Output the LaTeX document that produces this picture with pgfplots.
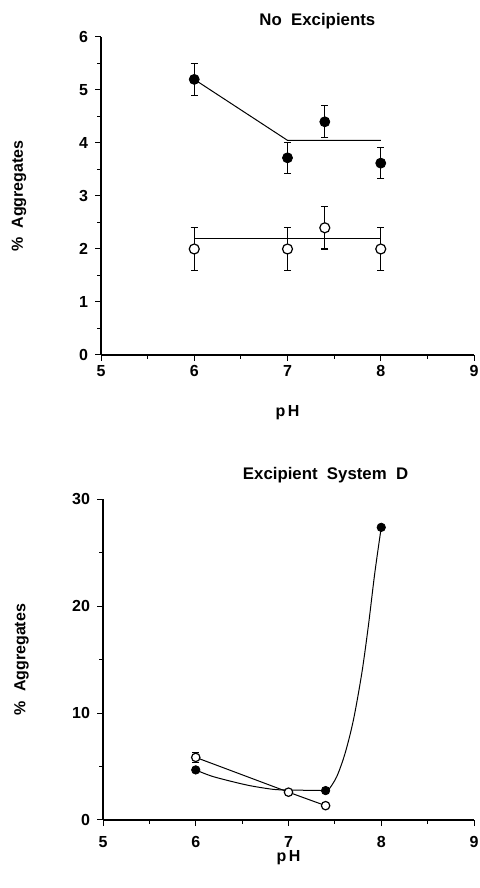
\documentclass[border=0pt]{standalone}
\usepackage{fontspec}
\setmainfont{Liberation Sans}
\usepackage{pgfplots}
\pgfplotsset{compat=1.18}
\begin{document}
\begin{tikzpicture}
\useasboundingbox (0pt,0pt) rectangle (240pt,444pt);
\pgfplotsset{
  every axis title shift=0pt,
  phax/.style={
    scale only axis,
    axis lines*=left,
    xmin=5, xmax=9, xtick={5,6,7,8,9}, minor x tick num=1,
    ymin=0,
    tick align=outside, tick pos=left,
    major tick length=3pt, minor tick length=1.8pt,
    every tick/.style={black, line width=0.5pt},
    axis line style={line width=0.6pt},
    tick label style={font=\fontsize{8}{9}\selectfont\bfseries},
    /pgf/number format/assume math mode=true,
    label style={font=\fontsize{8}{9}\selectfont\bfseries},
    title style={font=\fontsize{8.4}{9}\selectfont\bfseries, anchor=center},
    xlabel={p\,H},
    ylabel={\%\ \ Aggregates},
    ylabel style={at={(axis description cs:-0.22,0.5)}, anchor=center},
    clip=false,
  },
  fit/.style={black, line width=0.5pt, no marks},
  full/.style={only marks, mark=*, mark size=2.5pt, mark options={fill=black, draw=black}},
  open/.style={only marks, mark=*, mark size=2.5pt, mark options={fill=white, draw=black, line width=0.6pt}},
  ebar/.style={error bars/.cd, y dir=both, y explicit,
    error bar style={line width=0.6pt},
    error mark options={rotate=90, mark size=1.8pt, line width=0.6pt}},
}

% top panel: no excipients
\begin{axis}[phax,
  at={(50.5pt,266.5pt)}, anchor=south west,
  width=186.5pt, height=159pt,
  ymax=6, ytick={0,...,6}, minor y tick num=1,
  xticklabel style={yshift=1.5pt},
  title={No\ \ Excipients},
  title style={at={(axis description cs:0.58,1)}, yshift=8pt},
  xlabel style={at={(axis description cs:0.5,0)}, yshift=-29pt, anchor=center},
]
\addplot[fit] coordinates {(6,5.2) (7,4.05) (8,4.05)};
\addplot[fit] coordinates {(6,2.2) (8,2.2)};
\addplot[full, ebar] coordinates {
  (6,5.2) +- (0,0.3)
  (7,3.72) +- (0,0.29)
  (7.4,4.4) +- (0,0.3)
  (8,3.62) +- (0,0.29)
};
\addplot[open, ebar] coordinates {
  (6,2.0) +- (0,0.4)
  (7,2.0) +- (0,0.4)
  (7.4,2.4) +- (0,0.4)
  (8,2.0) +- (0,0.4)
};
\end{axis}

% bottom panel: excipient system D
\begin{axis}[phax,
  at={(51.5pt,34pt)}, anchor=south west,
  width=185.5pt, height=160.5pt,
  ymax=30, ytick={0,10,20,30}, minor y tick num=1,
  xticklabel style={yshift=-1.5pt},
  title={Excipient\ \ System\ \ D},
  title style={at={(axis description cs:0.6,1)}, yshift=12pt},
  xlabel style={at={(axis description cs:0.5,0)}, yshift=-19pt, anchor=center},
]
\addplot[fit, smooth, tension=0.5] coordinates {
  (6,4.68) (6.19,4.05) (6.55,3.27) (6.83,2.87) (7,2.8)
};
\addplot[fit] coordinates {(7,2.8) (7.4,2.75)};
\addplot[fit, smooth, tension=0.5] coordinates {
  (7.4,2.75) (7.43,2.8) (7.52,4.05) (7.61,6.23) (7.70,9.35) (7.79,13.7) (7.86,18.07) (7.93,23.06) (8,27.35)
};
\addplot[fit] coordinates {(6,5.85) (7,2.6) (7.4,1.34)};
\addplot[full, mark size=2.1pt] coordinates {(6,4.68) (7.4,2.75) (8,27.35)};
\addplot[open, mark size=2.1pt, ebar] coordinates {
  (6,5.85) +- (0,0.45)
  (7,2.6) +- (0,0)
  (7.4,1.34) +- (0,0)
};
\end{axis}
\end{tikzpicture}
\end{document}
